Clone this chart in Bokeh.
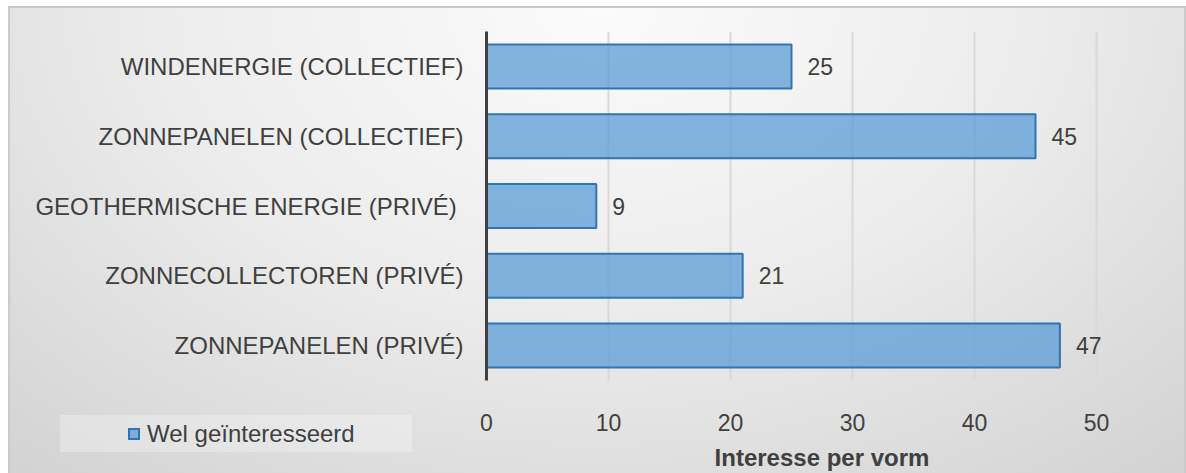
from bokeh.plotting import figure
from bokeh.layouts import column
from bokeh.models import (FactorRange, Range1d, FixedTicker, ColumnDataSource, Div)
from bokeh.core.properties import value
from bokeh.embed import file_html
from bokeh.resources import INLINE

# ---- data (bottom to top) ----
categories = [
    "ZONNEPANELEN (PRIVÉ)",
    "ZONNECOLLECTOREN (PRIVÉ)",
    "GEOTHERMISCHE ENERGIE (PRIVÉ) ",
    "ZONNEPANELEN (COLLECTIEF)",
    "WINDENERGIE (COLLECTIEF)",
]
values = [47, 21, 9, 45, 25]
x_ticks = [0, 10, 20, 30, 40, 50]
series_name = "Wel geïnteresseerd"
x_title = "Interesse per vorm"

FONT = "Liberation Sans"
TXT = "#404040"
BAR_FILL = "#5b9bd5"
BAR_LINE = "#2e75b6"

src = ColumnDataSource(dict(cat=categories, val=values,
                            lbl=[str(v) for v in values]))

p = figure(width=1178, height=467,
           y_range=FactorRange(*categories, range_padding=0),
           x_range=Range1d(0, 55),
           output_backend="svg", toolbar_location=None,
           min_border_left=478, min_border_top=25,
           min_border_right=29, min_border_bottom=92)

p.styles = {
    "margin-left": "8px",
    "margin-top": "6px",
    "background": "radial-gradient(ellipse 75% 130% at 50% 0%, #fbfbfb 0%, #ececec 50%, #d3d3d3 100%)",
    "box-shadow": "inset 2px 2px 0 0 #cbcbcb, inset -2px 0 0 0 #cbcbcb",
}
p.background_fill_alpha = 0
p.border_fill_alpha = 0
p.outline_line_color = None

bars = p.hbar(y="cat", right="val", left=0, height=0.63, source=src,
              fill_color=BAR_FILL, fill_alpha=0.75,
              line_color=BAR_LINE, line_width=2)

p.text(x="val", y="cat", text="lbl", source=src, x_offset=16,
       text_baseline="middle", text_align="left",
       text_font=value(FONT), text_font_size="23px", text_color=TXT)

# y axis
ya = p.yaxis[0]
ya.axis_line_color = TXT
ya.axis_line_width = 3
ya.major_tick_line_color = None
ya.minor_tick_line_color = None
ya.major_label_standoff = 17
ya.major_label_text_font = FONT
ya.major_label_text_font_size = "24px"
ya.major_label_text_color = TXT

# x axis
xa = p.xaxis[0]
xa.ticker = FixedTicker(ticks=x_ticks)
xa.axis_line_color = None
xa.major_tick_line_color = None
xa.minor_tick_line_color = None
xa.major_label_standoff = 27
xa.major_label_text_font = FONT
xa.major_label_text_font_size = "23px"
xa.major_label_text_color = TXT
xa.axis_label = x_title
xa.axis_label_text_font = FONT
xa.axis_label_text_font_size = "24px"
xa.axis_label_text_font_style = "bold"
xa.axis_label_text_color = TXT
xa.axis_label_standoff = 10

p.ygrid.grid_line_color = None
p.xgrid.grid_line_color = "#d9d9d9"
p.xgrid.grid_line_width = 2

# ---- legend (HTML box laid over the lower-left corner of the chart) ----
swatch = ('<span style="display:inline-block;box-sizing:border-box;'
          'width:12px;height:12px;'
          'background:rgba(91,155,213,0.75);border:2px solid %s;'
          'margin-right:7px;vertical-align:middle;position:relative;top:-2px">'
          '</span>' % BAR_LINE)
legend_div = Div(text=swatch + series_name, width=352, height=37)
legend_div.styles = {
    "margin-left": "60px",
    "margin-top": "-58px",
    "background": "rgba(255,255,255,0.28)",
    "font-family": "'Liberation Sans', Arial, sans-serif",
    "font-size": "24px",
    "color": TXT,
    "line-height": "37px",
    "padding-left": "68px",
    "box-sizing": "border-box",
    "white-space": "nowrap",
}

layout = column(p, legend_div, spacing=0)
open("out.html", "w").write(file_html(layout, INLINE))
